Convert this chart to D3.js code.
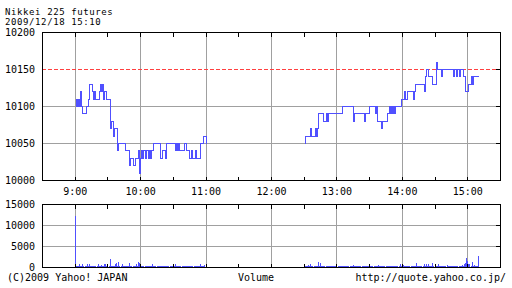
<!DOCTYPE html>
<html lang="en">
<head>
<meta charset="UTF-8">
<title>Nikkei 225 futures</title>
<script src="https://d3js.org/d3.v7.min.js"></script>
<style>
    body { margin: 0; background: #fff; }
    svg { display: block; background: #fff; }
    text { font-family: "DejaVu Sans Mono", monospace; font-size: 10px; fill: #000; }
    .title { font-size: 9px; letter-spacing: 0.6px; }
</style>
</head>
<body>
<svg id="chart" width="512" height="288"></svg>
<script>
    // price steps (time, price)
    let amTimes = ["9:00","9:01","9:02","9:03","9:04","9:05","9:06","9:07","9:10","9:12",
        "9:13","9:16","9:17","9:18","9:19","9:22","9:23","9:24","9:25","9:26",
        "9:27","9:29","9:32","9:33","9:35","9:36","9:39","9:40","9:46","9:50",
        "9:51","9:53","9:55","9:58","9:59","10:00","10:01","10:02","10:03","10:04",
        "10:05","10:07","10:08","10:09","10:10","10:12","10:18","10:20","10:23","10:24",
        "10:32","10:33","10:34","10:35","10:36","10:40","10:42","10:45","10:47","10:48",
        "10:50","10:51","10:55","10:58","11:00"];
    let amPrices = [10100,10110,10100,10110,10100,10120,10100,10090,10100,10110,
        10130,10120,10110,10120,10110,10120,10130,10120,10130,10110,
        10120,10110,10070,10080,10060,10070,10040,10050,10040,10020,
        10030,10020,10030,10040,10010,10030,10040,10030,10040,10030,
        10040,10030,10040,10030,10040,10050,10030,10040,10030,10050,
        10040,10050,10040,10050,10040,10050,10040,10030,10040,10030,
        10040,10030,10050,10060,10050];

    let pmTimes = ["12:30","12:31","12:36","12:37","12:40","12:41","12:42","12:43","12:48","12:50",
        "12:51","12:52","13:05","13:15","13:16","13:25","13:26","13:30","13:35","13:36",
        "13:37","13:41","13:42","13:46","13:48","13:49","13:50","13:51","13:52","13:53",
        "13:54","13:59","14:02","14:03","14:05","14:10","14:11","14:12","14:20","14:21",
        "14:22","14:24","14:28","14:31","14:32","14:36","14:37","14:47","14:48","14:50",
        "14:51","14:52","14:53","14:56","14:58","15:01","15:03","15:04","15:05","15:10"];
    let pmPrices = [10050,10060,10070,10060,10070,10060,10070,10090,10080,10090,
        10080,10090,10100,10080,10090,10080,10090,10100,10090,10100,
        10080,10070,10080,10090,10100,10090,10100,10090,10100,10090,
        10100,10110,10120,10110,10120,10110,10120,10130,10120,10140,
        10150,10140,10130,10160,10150,10140,10150,10140,10150,10140,
        10150,10140,10150,10140,10120,10130,10140,10130,10140,10140];

    let prevClose = 10150;

    // one-minute volumes
    let amVolStart = "9:00";
    let amVolumes = [12200,300,350,200,630,250,350,630,200,350,
        150,630,200,630,150,350,300,150,350,150,
        200,630,350,150,400,150,200,790,630,150,
        350,150,1900,200,350,300,150,790,950,300,
        1190,350,150,630,300,150,350,300,150,200,
        950,150,300,150,350,150,630,200,1190,950,
        630,300,150,300,100,300,100,250,100,100,
        100,630,100,250,100,100,100,100,300,100,
        100,100,100,100,250,100,100,250,100,100,
        100,100,790,200,100,100,250,100,100,200,
        100,250,200,100,250,100,200,100,100,250,
        100,100,200,100,100,630,100,250,100,500,
        150];
    let pmVolStart = "12:30";
    let pmVolumes = [790,200,150,300,400,150,630,200,100,150,
        100,150,300,1190,150,950,200,150,100,100,
        100,100,150,100,100,100,100,100,100,250,
        300,250,100,100,100,150,100,100,100,100,
        100,100,150,100,100,500,100,100,100,100,
        200,100,100,100,100,150,100,100,100,100,
        500,100,100,100,100,150,100,100,400,100,
        100,100,150,100,100,100,200,100,100,250,
        100,100,200,100,100,150,100,100,790,100,
        150,500,100,100,150,250,100,100,100,150,
        100,100,150,950,100,100,250,100,150,100,
        630,100,790,100,630,150,100,100,950,100,
        250,100,150,790,100,100,250,100,100,150,
        100,500,100,100,150,100,100,250,100,100,
        250,100,150,300,100,500,150,630,950,2100,
        1400,600,800,300,1190,200,400,150,200,100,
        2600];

    let priceTicks = [10000, 10050, 10100, 10150, 10200];
    let volumeTicks = [0, 5000, 10000, 15000];
    let hourLabels = ["9:00","10:00","11:00","12:00","13:00","14:00","15:00"];
    let dayStart = "8:30", dayEnd = "15:30";

    let parse = d3.timeParse("%H:%M");
    let svg = d3.select("#chart");
    let blue = "#5050ff", grid = "#a0a0a0";
    let c = v => Math.round(v) + 0.5;   // crisp 1px lines

    let x = d3.scaleTime().domain([parse(dayStart), parse(dayEnd)]).range([42, 500]);
    let yP = d3.scaleLinear().domain([10000, 10200]).range([180, 32]);
    let yV = d3.scaleLinear().domain([0, 15000]).range([267, 204]);

    let halfHours = d3.timeMinute.every(30).range(parse(dayStart), parse(dayEnd));
    let hours = hourLabels.map(parse);

    function panel(y, ticks, hGrid) {
        let g = svg.append("g").attr("shape-rendering", "crispEdges");
        let [y0, y1] = y.range();
        // vertical hour grid
        g.selectAll(".vg").data(hours).join("line")
            .attr("x1", d => c(x(d))).attr("x2", d => c(x(d)))
            .attr("y1", y1).attr("y2", y0)
            .attr("stroke", grid);
        // horizontal grid
        g.selectAll(".hg").data(hGrid).join("line")
            .attr("x1", 42).attr("x2", 500)
            .attr("y1", d => c(y(d))).attr("y2", d => c(y(d)))
            .attr("stroke", grid);
        // labels
        svg.append("g").selectAll("text").data(ticks).join("text")
            .attr("x", 35).attr("y", d => Math.round(y(d)) + 4)
            .attr("text-anchor", "end")
            .text(d => d);
        return g;
    }

    function frame(y, ticks) {
        let g = svg.append("g").attr("shape-rendering", "crispEdges").attr("stroke", "#000");
        let [y0, y1] = y.range();
        g.append("rect").attr("x", c(x.range()[0])).attr("y", c(y1))
            .attr("width", Math.round(x.range()[1]) - Math.round(x.range()[0]))
            .attr("height", Math.round(y0) - Math.round(y1))
            .attr("fill", "none");
        g.selectAll(".tt").data(halfHours).join("line")
            .attr("x1", d => c(x(d))).attr("x2", d => c(x(d)))
            .attr("y1", c(y1)).attr("y2", c(y1) + 4);
        g.selectAll(".tb").data(halfHours).join("line")
            .attr("x1", d => c(x(d))).attr("x2", d => c(x(d)))
            .attr("y1", c(y0)).attr("y2", c(y0) - 4);
        g.selectAll(".tr").data(ticks.slice(1, -1)).join("line")
            .attr("x1", c(x.range()[1]) - 5).attr("x2", c(x.range()[1]))
            .attr("y1", d => c(y(d))).attr("y2", d => c(y(d)));
    }

    // ---- price panel
    panel(yP, priceTicks, priceTicks.filter(d => d !== prevClose && d !== 10000 && d !== 10200));

    svg.append("line")
        .attr("shape-rendering", "crispEdges")
        .attr("x1", 42).attr("x2", 500)
        .attr("y1", c(yP(prevClose))).attr("y2", c(yP(prevClose)))
        .attr("stroke", "#ff4040")
        .attr("stroke-dasharray", "4,2");

    let line = d3.line()
        .x(d => c(x(d.t)))
        .y(d => c(yP(d.p)))
        .curve(d3.curveStepAfter);

    let sessions = [
        amTimes.map((t, i) => ({t: parse(t), p: amPrices[i]})),
        pmTimes.map((t, i) => ({t: parse(t), p: pmPrices[i]}))
    ];
    svg.append("g").attr("shape-rendering", "crispEdges")
        .selectAll("path").data(sessions).join("path")
        .attr("d", line)
        .attr("fill", "none")
        .attr("stroke", blue)
        .attr("stroke-width", 1);

    frame(yP, priceTicks);

    svg.append("g").selectAll("text").data(hours).join("text")
        .attr("x", d => x(d) + 0.5).attr("y", 195)
        .attr("text-anchor", "middle")
        .text(d => d3.timeFormat("%-H:%M")(d));

    // ---- volume panel
    panel(yV, volumeTicks, [5000, 10000]);

    let vols = [];
    amVolumes.forEach((v, i) => vols.push({t: d3.timeMinute.offset(parse(amVolStart), i), v: v}));
    pmVolumes.forEach((v, i) => vols.push({t: d3.timeMinute.offset(parse(pmVolStart), i), v: v}));

    svg.append("g").attr("shape-rendering", "crispEdges")
        .selectAll("rect").data(vols).join("rect")
        .attr("x", d => Math.round(x(d.t)))
        .attr("width", 1)
        .attr("y", d => Math.min(Math.round(yV(d.v)), Math.round(yV(0)) - 1))
        .attr("height", d => Math.round(yV(0)) - Math.min(Math.round(yV(d.v)), Math.round(yV(0)) - 1))
        .attr("fill", blue);

    frame(yV, volumeTicks);

    // ---- titles
    svg.append("text").attr("class", "title").attr("x", 5).attr("y", 14.5).text("Nikkei 225 futures");
    svg.append("text").attr("class", "title").attr("x", 5).attr("y", 25).text("2009/12/18 15:10");
    svg.append("text").attr("x", 7).attr("y", 281).text("(C)2009 Yahoo! JAPAN");
    svg.append("text").attr("x", 238).attr("y", 281).text("Volume");
    svg.append("text").attr("x", 506).attr("y", 281).attr("text-anchor", "end").text("http://quote.yahoo.co.jp/");
</script>
</body>
</html>
